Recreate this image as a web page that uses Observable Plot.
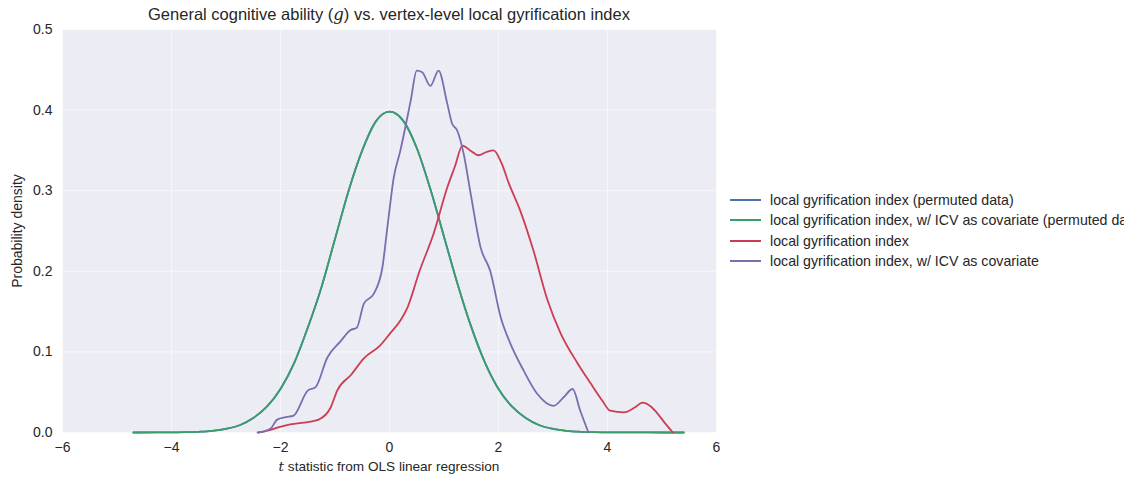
<!DOCTYPE html>
<html><head><meta charset="utf-8">
<script src="https://cdn.jsdelivr.net/npm/d3@7"></script>
<script src="https://cdn.jsdelivr.net/npm/@observablehq/plot@0.6"></script>
<style>
body{margin:0;background:#fff;overflow:hidden;font-family:"Liberation Sans",Arial,sans-serif;color:#262626;}
#wrap{position:relative;width:1124px;height:479px;overflow:hidden;}
#wrap svg{position:absolute;left:0;top:0;}
.title{position:absolute;left:62px;width:654px;top:5px;text-align:center;font-size:16.5px;white-space:nowrap;}
.xlabel{position:absolute;left:62px;width:654px;top:458px;text-align:center;font-size:13.6px;white-space:nowrap;}
.m{font-family:"DejaVu Serif",serif;font-style:italic;}
.legend{position:absolute;left:730px;top:190px;font-size:14.2px;white-space:nowrap;}
.row{height:20.3px;display:flex;align-items:center;}
.sw{width:31px;height:0;border-top:2px solid;margin-right:9px;}
</style></head><body><div id="wrap"></div>
<script>
const seriesNames = [
  "local gyrification index (permuted data)",
  "local gyrification index, w/ ICV as covariate (permuted data)",
  "local gyrification index",
  "local gyrification index, w/ ICV as covariate"
];
const seriesColors = ["#4C72B0", "#3A9E6B", "#CC3D55", "#786EB0"];

const xTicks = [-6, -4, -2, 0, 2, 4, 6];
const yTicks = [0, 0.1, 0.2, 0.3, 0.4, 0.5];

// permuted data (both permuted series overlap)
const tPermuted = [-4.7,-4.25,-4,-3.75,-3.5,-3.25,-3,-2.75,-2.5,-2.25,-2,-1.75,-1.5,-1.25,-1,-0.75,-0.5,-0.25,0,0.25,0.5,0.75,1,1.25,1.5,1.75,2,2.25,2.5,2.75,3,3.25,3.5,3.75,4,4.5,5,5.4];
const densityPermuted = [0,0.0001,0.0002,0.0004,0.0009,0.002,0.0045,0.009,0.018,0.032,0.054,0.086,0.13,0.18,0.24,0.3,0.35,0.386,0.398,0.387,0.353,0.302,0.243,0.184,0.131,0.087,0.054,0.032,0.018,0.009,0.0045,0.002,0.0009,0.0004,0.0002,0.0001,0,0];
const densityPermutedICV = [0,0.0001,0.0002,0.0004,0.0009,0.002,0.0045,0.009,0.018,0.032,0.054,0.086,0.13,0.18,0.24,0.3,0.35,0.386,0.398,0.387,0.353,0.302,0.243,0.184,0.131,0.087,0.054,0.032,0.018,0.009,0.0045,0.002,0.0009,0.0004,0.0002,0.0001,0,0];

const tLGI = [-2.42,-2.2,-2.06,-1.82,-1.5,-1.3,-1.08,-0.96,-0.7,-0.47,-0.17,0,0.2,0.33,0.55,0.81,1.06,1.2,1.34,1.48,1.63,1.78,1.91,2.05,2.19,2.4,2.64,2.9,3.14,3.45,3.69,3.9,4.05,4.3,4.5,4.64,4.8,4.9,5.05,5.2];
const densityLGI = [0,0.003,0.006,0.01,0.013,0.016,0.031,0.052,0.072,0.092,0.108,0.122,0.139,0.155,0.2,0.247,0.304,0.33,0.356,0.35,0.344,0.348,0.35,0.335,0.309,0.275,0.226,0.164,0.123,0.086,0.061,0.04,0.027,0.025,0.031,0.037,0.032,0.025,0.012,0];

const tICV = [-2.4,-2.18,-2.06,-1.9,-1.76,-1.5,-1.36,-1.14,-0.9,-0.72,-0.6,-0.47,-0.29,-0.13,-0.04,0.08,0.2,0.39,0.5,0.6,0.75,0.9,1.06,1.15,1.24,1.36,1.49,1.67,1.85,2.04,2.22,2.46,2.71,3.01,3.2,3.36,3.5,3.65];
const densityICV = [0,0.005,0.016,0.019,0.021,0.052,0.056,0.093,0.113,0.127,0.13,0.16,0.172,0.205,0.254,0.317,0.35,0.412,0.449,0.447,0.43,0.449,0.408,0.383,0.375,0.346,0.296,0.23,0.2,0.143,0.11,0.077,0.048,0.033,0.044,0.054,0.027,0];

const rows = (ts, ds, s) => ts.map((t, i) => ({t, d: ds[i], s}));
const data = [
  ...rows(tPermuted, densityPermuted, seriesNames[0]),
  ...rows(tPermuted, densityPermutedICV, seriesNames[1]),
  ...rows(tLGI, densityLGI, seriesNames[2]),
  ...rows(tICV, densityICV, seriesNames[3])
];

const plot = Plot.plot({
  width: 1124, height: 479,
  marginLeft: 62, marginRight: 408, marginTop: 29, marginBottom: 47,
  style: {fontFamily: "Liberation Sans, Arial, sans-serif", fontSize: "14px", color: "#262626", background: "transparent"},
  x: {domain: [-6, 6]},
  y: {domain: [0, 0.5]},
  color: {domain: seriesNames, range: seriesColors},
  marks: [
    Plot.frame({fill: "#ECECF4", stroke: null}),
    Plot.gridX(xTicks, {stroke: "white", strokeOpacity: 0.55, strokeWidth: 1}),
    Plot.gridY(yTicks, {stroke: "white", strokeOpacity: 0.55, strokeWidth: 1}),
    Plot.axisX(xTicks, {tickSize: 0, tickPadding: 10, tickFormat: d3.format("d"), label: null, fontSize: 14}),
    Plot.axisY(yTicks, {tickSize: 0, tickPadding: 10, tickFormat: d3.format(".1f"), label: "Probability density", labelAnchor: "center", labelOffset: 50, labelArrow: "none", fontSize: 14}),
    Plot.line(data, {x: "t", y: "d", z: "s", stroke: "s", strokeWidth: 1.8, curve: "monotone-x"})
  ]
});

const wrap = document.getElementById("wrap");
wrap.appendChild(plot);

const title = document.createElement("div");
title.className = "title";
title.innerHTML = 'General cognitive ability (<span class="m">g</span>) vs. vertex-level local gyrification index';
wrap.appendChild(title);

const xl = document.createElement("div");
xl.className = "xlabel";
xl.innerHTML = '<span class="m">t</span> statistic from OLS linear regression';
wrap.appendChild(xl);

const lg = document.createElement("div");
lg.className = "legend";
seriesNames.forEach((n, i) => {
  const r = document.createElement("div");
  r.className = "row";
  r.innerHTML = `<span class="sw" style="border-color:${seriesColors[i]}"></span><span>${n}</span>`;
  lg.appendChild(r);
});
wrap.appendChild(lg);
</script>
</body></html>
